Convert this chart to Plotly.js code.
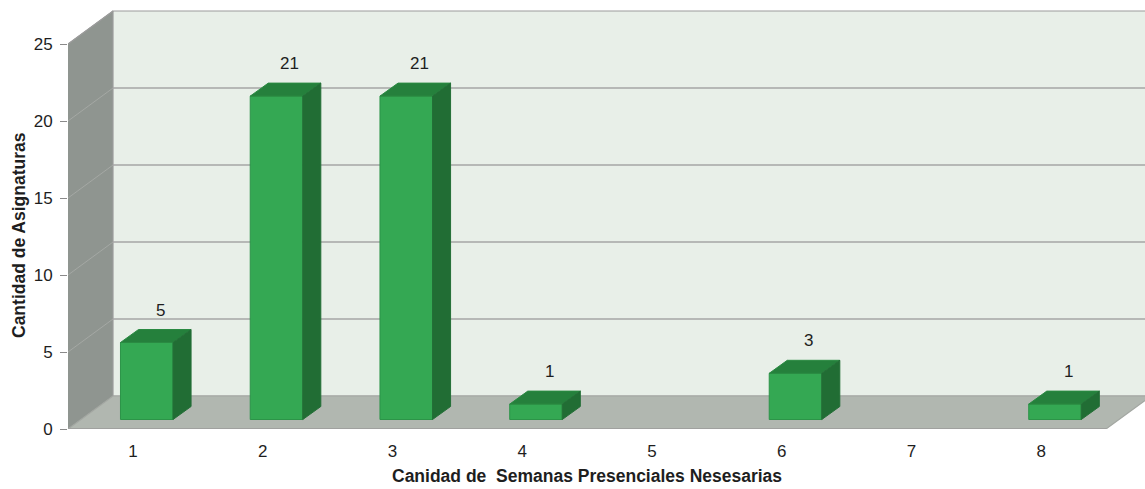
<!DOCTYPE html>
<html>
<head>
<meta charset="utf-8">
<script src="https://cdn.plot.ly/plotly-3.0.1.min.js"></script>
<style>html,body{margin:0;padding:0;background:#fff;}#chart{width:1145px;height:489px;}</style>
</head>
<body>
<div id="chart"></div>
<script>
// ---- data ----
const categories = [1, 2, 3, 4, 5, 6, 7, 8];
const tickLabels = ["1", "2", "3", "4", "5", "6", "7", "8"];
const values = [5, 21, 21, 1, 0, 3, 0, 1];
const yTicks = [0, 5, 10, 15, 20, 25];
const xTitle = 'Canidad de\u00a0 Semanas Presenciales Nesesarias';
const yTitle = 'Cantidad de Asignaturas';

// ---- pseudo-3D geometry (in data units) ----
const DEPTH_X = 0.3468, DEPTH_Y = 2.143;   // wall depth
const BAR_OFF_X = 0.107, BAR_OFF_Y = 0.617; // bar front face offset from front plane
const BAR_W = 0.405;                         // bar width
const BAR_DX = 0.139, BAR_DY = 0.844;        // bar depth
const X0 = 0.5, X1 = 8.5, XMAX = 0.5 + 1077 / 129.75;
const YTOP = 25;
const FONT = 'Liberation Sans, Arial, sans-serif';

const traces = [];
function poly(xs, ys, fill, line, w) {
  traces.push({
    type: 'scatter', mode: 'lines', x: xs.concat([xs[0]]), y: ys.concat([ys[0]]),
    fill: 'toself', fillcolor: fill,
    line: {color: line, width: w === undefined ? 1 : w},
    hoverinfo: 'skip', showlegend: false
  });
}
function seg(xs, ys, color, w) {
  traces.push({
    type: 'scatter', mode: 'lines', x: xs, y: ys,
    line: {color: color, width: w || 1},
    hoverinfo: 'skip', showlegend: false
  });
}

// left wall
poly([X0, X0, X0 + DEPTH_X, X0 + DEPTH_X], [0, YTOP, YTOP + DEPTH_Y, DEPTH_Y], '#8f9590', '#8f9590', 1);
// back wall
poly([X0 + DEPTH_X, X0 + DEPTH_X, XMAX + 1, XMAX + 1], [DEPTH_Y, YTOP + DEPTH_Y, YTOP + DEPTH_Y, DEPTH_Y], '#e8efe8', '#9c9c9c', 1.2);
// floor
poly([X0, X1, X1 + DEPTH_X, X0 + DEPTH_X], [0, 0, DEPTH_Y, DEPTH_Y], '#b1b7b0', '#a3a7a2', 1.2);
// gridlines
yTicks.forEach(v => {
  if (v > 0 && v < YTOP) {
    seg([X0, X0 + DEPTH_X], [v, v + DEPTH_Y], '#a4a8a4', 1);
    seg([X0 + DEPTH_X, XMAX + 1], [v + DEPTH_Y, v + DEPTH_Y], '#a6a6a6', 1.5);
  }
});
seg([X0, X0 + DEPTH_X], [YTOP, YTOP + DEPTH_Y], '#9c9c9c', 1.2);
seg([X0 - 0.045, X1], [0, 0], '#9c9c9c', 1.5);

// bars
const annotations = [];
categories.forEach((c, i) => {
  const v = values[i];
  if (!v) return;
  const xl = c + BAR_OFF_X - BAR_W / 2, xr = xl + BAR_W;
  const yb = BAR_OFF_Y, yt = BAR_OFF_Y + v;
  // front
  poly([xl, xr, xr, xl], [yb, yb, yt, yt], '#34a853', '#2c9448', 1);
  // top
  poly([xl, xr, xr + BAR_DX, xl + BAR_DX], [yt, yt, yt + BAR_DY, yt + BAR_DY], '#25803c', '#2a8a42', 1);
  // side
  poly([xr, xr + BAR_DX, xr + BAR_DX, xr], [yb, yb + BAR_DY, yt + BAR_DY, yt], '#216d34', '#246f37', 1);
  annotations.push({
    x: c + 0.21, y: v + 2.72, xref: 'x', yref: 'y', text: String(v), showarrow: false,
    xanchor: 'center', yanchor: 'middle',
    font: {family: FONT, size: 17, color: '#1e1e1e'}
  });
});

// axis titles (positioned like the original, which is off-centre)
annotations.push({
  xref: 'paper', yref: 'paper', x: (587 - 68) / 1077, y: (429 - 476) / 424,
  xanchor: 'center', yanchor: 'middle', showarrow: false, text: '<b>' + xTitle + '</b>',
  font: {family: FONT, size: 17.5, color: '#1e1e1e'}
});
annotations.push({
  xref: 'paper', yref: 'paper', x: (19 - 68) / 1077, y: (429 - 235) / 424,
  xanchor: 'center', yanchor: 'middle', showarrow: false, textangle: -90, text: '<b>' + yTitle + '</b>',
  font: {family: FONT, size: 17.5, color: '#1e1e1e'}
});

const layout = {
  width: 1145, height: 489,
  margin: {l: 68, r: 0, t: 5, b: 60},
  paper_bgcolor: '#ffffff', plot_bgcolor: 'rgba(0,0,0,0)',
  showlegend: false,
  font: {family: FONT, size: 17, color: '#1e1e1e'},
  xaxis: {
    range: [X0, XMAX], tickvals: categories, ticktext: tickLabels,
    ticks: 'outside', ticklen: 7, tickcolor: 'rgba(0,0,0,0)',
    showgrid: false, zeroline: false, showline: false, fixedrange: true, automargin: false,
    tickfont: {size: 17, color: '#1e1e1e'}
  },
  yaxis: {
    range: [0, 424 / 15.4], tickvals: yTicks,
    ticks: 'outside', ticklen: 7, tickcolor: '#8a8a8a', tickwidth: 1,
    ticklabelstandoff: 4,
    showgrid: false, zeroline: false, showline: false, fixedrange: true, automargin: false,
    tickfont: {size: 17, color: '#1e1e1e'}
  },
  annotations: annotations
};

Plotly.newPlot('chart', traces, layout, {displayModeBar: false, staticPlot: true});
</script>
</body>
</html>
